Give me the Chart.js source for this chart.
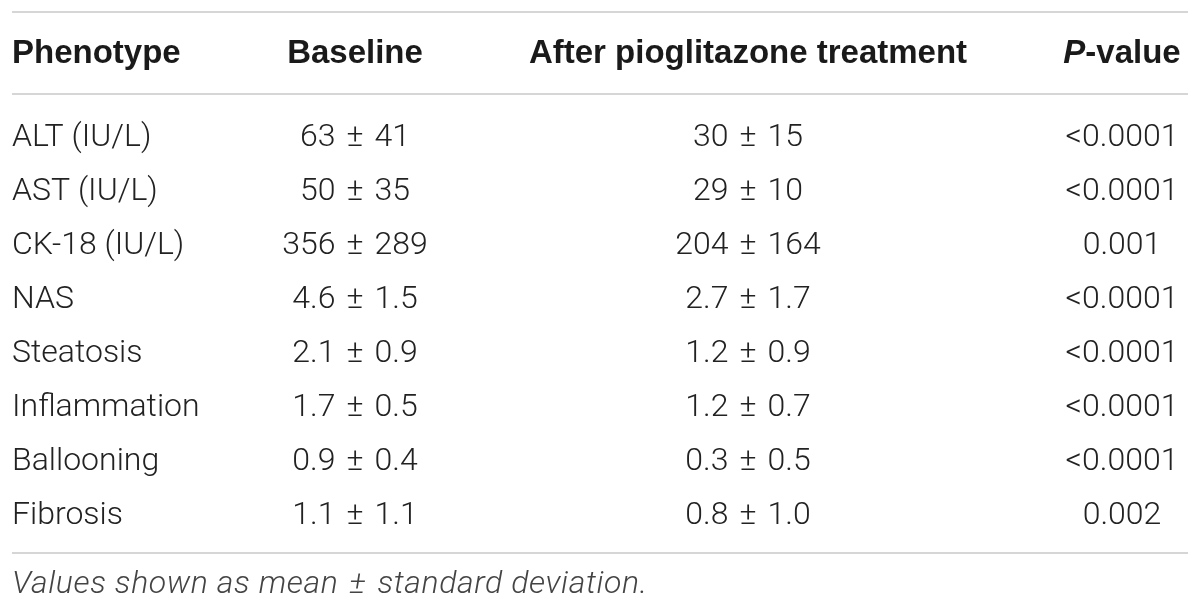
<!DOCTYPE html>
<html>
<head>
<meta charset="utf-8">
<script src="https://cdn.jsdelivr.net/npm/chart.js@4.4.1/dist/chart.umd.min.js"></script>
<style>
  html, body { margin: 0; padding: 0; background: #fff; }
  #wrap { width: 1200px; height: 610px; }
</style>
</head>
<body>
<div id="wrap"><canvas id="tbl" width="1200" height="610"></canvas></div>
<script>
// table content
const headers = ["Phenotype", "Baseline", "After pioglitazone treatment", "P-value"];
const phenotypes = ["ALT (IU/L)", "AST (IU/L)", "CK-18 (IU/L)", "NAS", "Steatosis", "Inflammation", "Ballooning", "Fibrosis"];
const baselineMean = [63, 50, 356, 4.6, 2.1, 1.7, 0.9, 1.1];
const baselineSd = [41, 35, 289, 1.5, 0.9, 0.5, 0.4, 1.1];
const afterMean = [30, 29, 204, 2.7, 1.2, 1.2, 0.3, 0.8];
const afterSd = [15, 10, 164, 1.7, 0.9, 0.7, 0.5, 1.0];
const pValues = ["<0.0001", "<0.0001", "0.001", "<0.0001", "<0.0001", "<0.0001", "<0.0001", "0.002"];
const footnote = ["Values shown as mean", "standard deviation."];

// one decimal for the score rows, none for the lab values
function pair(m, s) {
  const d = (m < 10) ? 1 : 0;
  return [m.toFixed(d), s.toFixed(d)];
}

const baselineText = baselineMean.map((m, i) => pair(m, baselineSd[i]));
const afterText = afterMean.map((m, i) => pair(m, afterSd[i]));

// column anchor x in a 0..1200 space, row index on y
const colX = [12, 355, 748, 1122];
const colAlign = ["left", "center", "center", "center"];
const columns = [phenotypes, baselineText, afterText, pValues];

const datasets = columns.map((col, c) => ({
  label: headers[c],
  data: col.map((t, r) => ({ x: colX[c], y: r })),
  pointRadius: 0,
  pointHoverRadius: 0,
  showLine: false
}));

const BODY_FONT = '300 32px Roboto, "Liberation Sans", sans-serif';
const HEAD_FONT = 'bold 33px "Liberation Sans", Arial, sans-serif';
const HEAD_ITALIC = 'italic bold 33px "Liberation Sans", Arial, sans-serif';
const FOOT_FONT = 'italic 300 32px Roboto, "Liberation Sans", sans-serif';
const PM_GAP = 11;

function capMid(ctx) {
  return ctx.measureText("H").actualBoundingBoxAscent / 2;
}

// draws "a ± b" with wider gaps round the sign, like the typeset table
function drawPM(ctx, a, b, x, y, align) {
  const wa = ctx.measureText(a).width;
  const wpm = ctx.measureText("\u00b1").width;
  const wb = ctx.measureText(b).width;
  const total = wa + PM_GAP + wpm + PM_GAP + wb;
  let left = align === "center" ? x - total / 2 : x;
  ctx.textAlign = "left";
  ctx.fillText(a, left, y);
  ctx.fillText("\u00b1", left + wa + PM_GAP, y);
  ctx.fillText(b, left + wa + PM_GAP + wpm + PM_GAP, y);
  return total;
}

const tablePlugin = {
  id: "tablePlugin",
  beforeDraw(chart) {
    const ctx = chart.ctx;
    ctx.save();
    ctx.fillStyle = "#fff";
    ctx.fillRect(0, 0, chart.width, chart.height);
    ctx.restore();
  },
  afterDatasetsDraw(chart) {
    const ctx = chart.ctx;
    const xs = chart.scales.x, ys = chart.scales.y;
    ctx.save();
    ctx.textBaseline = "alphabetic";

    // rules
    ctx.strokeStyle = "#c9c9c9";
    ctx.lineWidth = 1.5;
    [-2.28, -0.76, 7.74].forEach(r => {
      const y = ys.getPixelForValue(r);
      ctx.beginPath();
      ctx.moveTo(xs.getPixelForValue(12), y);
      ctx.lineTo(xs.getPixelForValue(1188), y);
      ctx.stroke();
    });

    // header
    ctx.fillStyle = "#1a1a1a";
    ctx.font = HEAD_FONT;
    const hy = ys.getPixelForValue(-1.54) + capMid(ctx);
    headers.forEach((h, c) => {
      const x = xs.getPixelForValue(colX[c]);
      if (h === "P-value") {
        ctx.font = HEAD_ITALIC;
        const wP = ctx.measureText("P").width;
        ctx.font = HEAD_FONT;
        const wRest = ctx.measureText("-value").width;
        const left = x - (wP + wRest) / 2;
        ctx.textAlign = "left";
        ctx.font = HEAD_ITALIC;
        ctx.fillText("P", left, hy);
        ctx.font = HEAD_FONT;
        ctx.fillText("-value", left + wP, hy);
      } else {
        ctx.textAlign = colAlign[c];
        ctx.font = HEAD_FONT;
        ctx.fillText(h, x, hy);
      }
    });

    // body cells placed at the dataset points
    ctx.font = BODY_FONT;
    ctx.fillStyle = "#222";
    const off = capMid(ctx);
    chart.data.datasets.forEach((ds, c) => {
      const meta = chart.getDatasetMeta(c);
      meta.data.forEach((pt, r) => {
        const v = columns[c][r];
        if (Array.isArray(v)) {
          drawPM(ctx, v[0], v[1], pt.x, pt.y + off, colAlign[c]);
        } else {
          ctx.textAlign = colAlign[c];
          ctx.fillText(v, pt.x, pt.y + off);
        }
      });
    });

    // footnote
    ctx.font = FOOT_FONT;
    ctx.fillStyle = "#444";
    ctx.letterSpacing = "0.6px";
    const fy = ys.getPixelForValue(8.28) + capMid(ctx);
    drawPM(ctx, footnote[0], footnote[1], xs.getPixelForValue(12), fy, "left");
    ctx.letterSpacing = "0px";

    ctx.restore();
  }
};

new Chart(document.getElementById("tbl"), {
  type: "scatter",
  data: { datasets },
  options: {
    responsive: false,
    animation: false,
    events: [],
    layout: { padding: 0 },
    plugins: { legend: { display: false }, tooltip: { enabled: false } },
    scales: {
      x: { type: "linear", min: 0, max: 1200, display: false },
      y: { type: "linear", reverse: true, min: -2.5, max: 8.7963, display: false }
    }
  },
  plugins: [tablePlugin]
});
</script>
</body>
</html>
